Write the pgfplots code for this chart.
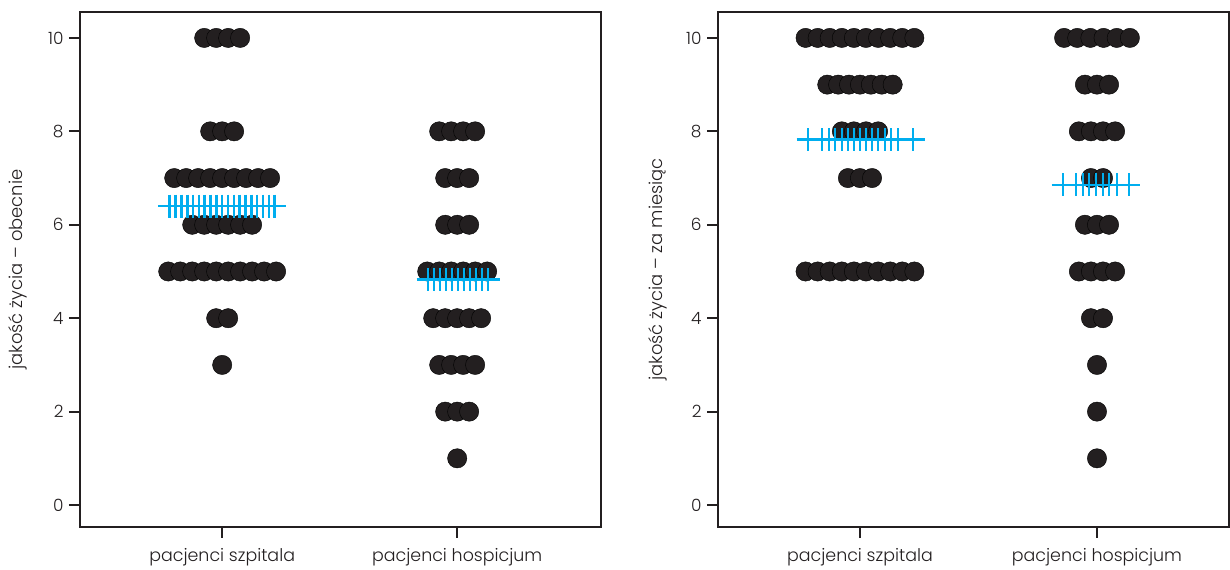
\documentclass[border=0pt]{standalone}
\usepackage{fontspec}
\setmainfont{Poppins}[UprightFont=* Light]
\usepackage{pgfplots}
\pgfplotsset{compat=1.18}
\definecolor{dotc}{HTML}{231F20}
\definecolor{meanc}{HTML}{00AEEF}
\pgfplotsset{
  myax/.style={
    scale only axis, height=515bp,
    ymin=-0.47, ymax=10.555,
    ytick={0,2,4,6,8,10},
    xtick={1,2}, xticklabels={pacjenci szpitala, pacjenci hospicjum},
    axis line style={draw=dotc, line width=2.6bp},
    tick style={draw=dotc, line width=2.2bp},
    major tick length=11bp,
    tick align=outside,
    xtick pos=left, ytick pos=left,
    /pgf/number format/assume math mode=true,
    ticklabel style={font=\fontsize{17}{19}\selectfont, text=dotc},
    xticklabel style={font=\fontsize{17.5}{20}\selectfont, yshift=-7bp},
    yticklabel style={xshift=-2bp},
    label style={font=\fontsize{18}{21}\selectfont, text=dotc},
    clip=false,
  },
  dots/.style={only marks, mark=*, mark size=9.65bp, mark options={draw=none, fill=dotc}},
  means/.style={only marks, mark=+, mark size=11.5bp, mark options={draw=meanc, line width=2.6bp}},
}
\begin{document}
\begin{tikzpicture}
\useasboundingbox (0,0) rectangle (1230bp,570bp);
\begin{axis}[myax, at={(80bp,43bp)}, anchor=south west, width=521bp,
  xmin=0.395, xmax=2.612,
  ylabel={jakość życia – obecnie},
  ylabel style={at={(axis description cs:-0.119,0.5)}, anchor=center}]
\addplot[dots] coordinates {
(0.9235,10) (0.9745,10) (1.0255,10) (1.0765,10)
(0.949,8) (1,8) (1.051,8)
(0.796,7) (0.847,7) (0.898,7) (0.949,7) (1,7) (1.051,7) (1.102,7) (1.153,7) (1.204,7)
(0.8725,6) (0.9235,6) (0.9745,6) (1.0255,6) (1.0765,6) (1.1275,6)
(0.7705,5) (0.8215,5) (0.8725,5) (0.9235,5) (0.9745,5) (1.0255,5) (1.0765,5) (1.1275,5) (1.1785,5) (1.2295,5)
(0.9745,4) (1.0255,4)
(1,3)
};
\addplot[dots] coordinates {
(1.9235,8) (1.9745,8) (2.0255,8) (2.0765,8)
(1.949,7) (2,7) (2.051,7)
(1.949,6) (2,6) (2.051,6)
(1.8725,5) (1.9235,5) (1.9745,5) (2.0255,5) (2.0765,5) (2.1275,5)
(1.898,4) (1.949,4) (2,4) (2.051,4) (2.102,4)
(1.9235,3) (1.9745,3) (2.0255,3) (2.0765,3)
(1.949,2) (2,2) (2.051,2)
(2,1)
};
\addplot[means] coordinates {
(0.7768,6.4) (0.8016,6.4) (0.8264,6.4) (0.8512,6.4) (0.876,6.4) (0.9008,6.4) (0.9256,6.4) (0.9504,6.4) (0.9752,6.4) (1,6.4) (1.0248,6.4) (1.0496,6.4) (1.0744,6.4) (1.0992,6.4) (1.124,6.4) (1.1488,6.4) (1.1736,6.4) (1.1984,6.4) (1.2232,6.4)
};
\addplot[means] coordinates {
(1.8765,4.828) (1.902,4.828) (1.9275,4.828) (1.953,4.828) (1.9785,4.828) (2.004,4.828) (2.0295,4.828) (2.055,4.828) (2.0805,4.828) (2.106,4.828) (2.1315,4.828)
};
\end{axis}
\begin{axis}[myax, at={(718bp,43bp)}, anchor=south west, width=511bp,
  xmin=0.401, xmax=2.557,
  ylabel={jakość życia – za miesiąc},
  ylabel style={at={(axis description cs:-0.117,0.5)}, anchor=center}]
\addplot[dots] coordinates {
(0.7705,10) (0.8215,10) (0.8725,10) (0.9235,10) (0.9745,10) (1.0255,10) (1.0765,10) (1.1275,10) (1.1785,10) (1.2295,10)
(0.862,9) (0.908,9) (0.954,9) (1,9) (1.046,9) (1.092,9) (1.138,9)
(0.9235,8) (0.9745,8) (1.0255,8) (1.0765,8)
(0.949,7) (1,7) (1.051,7)
(0.7705,5) (0.8215,5) (0.8725,5) (0.9235,5) (0.9745,5) (1.0255,5) (1.0765,5) (1.1275,5) (1.1785,5) (1.2295,5)
};
\addplot[dots] coordinates {
(1.8612,10) (1.9167,10) (1.9722,10) (2.0278,10) (2.0833,10) (2.1388,10)
(1.949,9) (2,9) (2.051,9)
(1.9235,8) (1.9745,8) (2.0255,8) (2.0765,8)
(1.9745,7) (2.0255,7)
(1.949,6) (2,6) (2.051,6)
(1.9235,5) (1.9745,5) (2.0255,5) (2.0765,5)
(1.9745,4) (2.0255,4)
(2,3) (2,2) (2,1)
};
\addplot[means] coordinates {
(0.781,7.824) (0.840,7.824) (0.869,7.824) (0.895,7.824) (0.924,7.824) (0.949,7.824) (0.975,7.824) (1,7.824) (1.025,7.824) (1.051,7.824) (1.076,7.824) (1.105,7.824) (1.131,7.824) (1.160,7.824) (1.224,7.824)
};
\addplot[means] coordinates {
(1.857,6.852) (1.911,6.852) (1.941,6.852) (1.966,6.852) (1.996,6.852) (2.025,6.852) (2.051,6.852) (2.084,6.852) (2.135,6.852)
};
\end{axis}
\end{tikzpicture}
\end{document}
